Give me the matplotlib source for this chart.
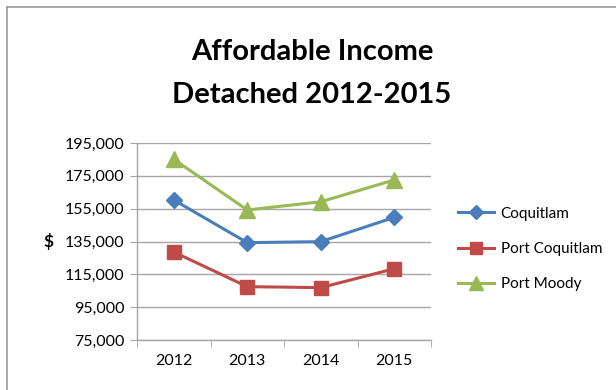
import matplotlib.pyplot as plt
from matplotlib.lines import Line2D
import numpy as np

plt.rcParams['font.family'] = ['Lato', 'DejaVu Sans']

years = ["2012", "2013", "2014", "2015"]
coquitlam = [160300, 134300, 134900, 149700]
port_coquitlam = [128600, 107500, 106900, 118400]
port_moody = [185100, 154200, 159200, 172500]
y_ticks = [75000, 95000, 115000, 135000, 155000, 175000, 195000]

series = [
    ("Coquitlam", coquitlam, "#4a7ebb", "D", 8),
    ("Port Coquitlam", port_coquitlam, "#be4b48", "s", 10),
    ("Port Moody", port_moody, "#98b954", "^", 11),
]

fig = plt.figure(figsize=(6.16, 3.9), dpi=100)
ax = fig.add_axes([137 / 616, 1 - 340 / 390, (431 - 137) / 616, (340 - 143) / 390])

grid_col = "#a6a6a6"
x = np.arange(len(years))
for name, vals, col, mk, ms in series:
    ax.plot(x, vals, color=col, lw=2.2, marker=mk, markersize=ms,
            markeredgecolor=col, label=name, zorder=3)

ax.set_xlim(-0.5, len(years) - 0.5)
ax.set_ylim(y_ticks[0], y_ticks[-1])
ax.set_yticks(y_ticks)
ax.set_yticklabels([f"{v:,}" for v in y_ticks])
ax.set_xticks(x)
ax.set_xticklabels(years)
ax.set_xticks(np.arange(-0.5, len(years)), minor=True)
ax.tick_params(axis="x", which="major", length=0, pad=10, labelsize=11.5)
ax.tick_params(axis="x", which="minor", length=5, color=grid_col, direction="out")
ax.tick_params(axis="y", length=5, color=grid_col, labelsize=11.5, pad=4)
ax.yaxis.grid(True, color=grid_col, lw=1)
ax.set_axisbelow(True)
for side in ("top", "right"):
    ax.spines[side].set_visible(False)
for side in ("left", "bottom"):
    ax.spines[side].set_color(grid_col)
    ax.spines[side].set_linewidth(1)

fig.text(48 / 616, 1 - 241 / 390, "$", fontsize=12.5, fontweight="bold",
         ha="center", va="center")

fig.text(312 / 616, 1 - 52 / 390, "Affordable Income", fontsize=21,
         fontweight="bold", ha="center", va="center")
fig.text(312 / 616, 1 - 95 / 390, "Detached 2012-2015", fontsize=21,
         fontweight="bold", ha="center", va="center")

handles = [Line2D([0], [0], color=col, lw=2.2, marker=mk, markersize=ms * 0.9,
                  markeredgecolor=col) for _, _, col, mk, ms in series]
fig.legend(handles, [s[0] for s in series], loc="center left",
           bbox_to_anchor=(444 / 616, 1 - 249 / 390), frameon=False,
           fontsize=11, handlelength=2.4, labelspacing=1.4, handletextpad=0.4)

# chart area border (top and left edges only)
fig.add_artist(Line2D([7 / 616, 7 / 616], [0, 1 - 7 / 390], color="#999999", lw=1.2,
                      transform=fig.transFigure))
fig.add_artist(Line2D([7 / 616, 1], [1 - 7 / 390, 1 - 7 / 390], color="#999999", lw=1.2,
                      transform=fig.transFigure))

fig.savefig("out.png", dpi=100)
